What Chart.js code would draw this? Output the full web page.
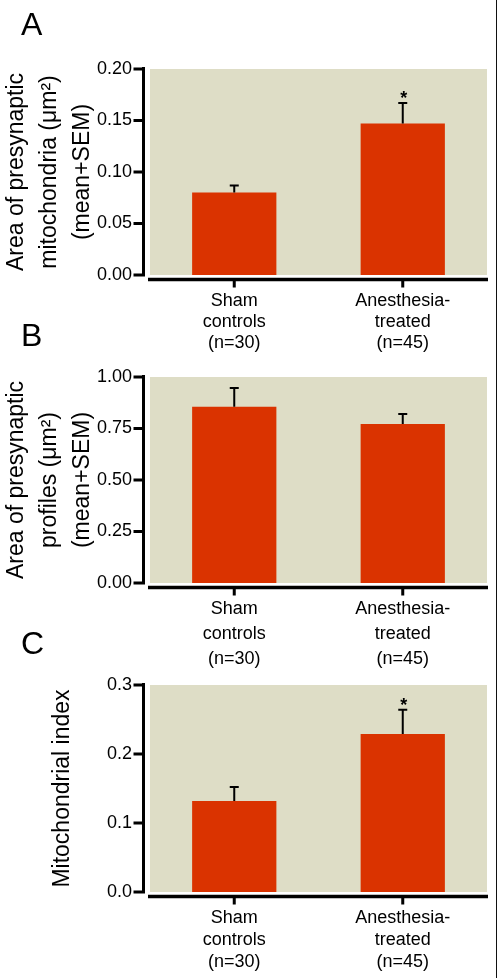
<!DOCTYPE html>
<html>
<head>
<meta charset="utf-8">
<script src="https://cdn.jsdelivr.net/npm/chart.js@4/dist/chart.umd.min.js"></script>
<style>
  body { margin: 0; background: #fff; }
  #page { position: relative; width: 496px; height: 978px; border-right: 1.5px solid #111; }
  canvas { position: absolute; left: 0; }
</style>
</head>
<body>
<div id="page">
  <canvas id="chartA" style="top:0px"></canvas>
  <canvas id="chartB" style="top:310px"></canvas>
  <canvas id="chartC" style="top:610px"></canvas>
</div>
<script>
// Categorias (iguais nos três painéis)
const categorias = [['Sham', 'controls', '(n=30)'], ['Anesthesia-', 'treated', '(n=45)']];

// Painel A: área das mitocôndrias pré-sinápticas
const mediaA = [0.080, 0.147];
const semA = [0.007, 0.020];
const estrelaA = [false, true];
const ticksA = ['0.00', '0.05', '0.10', '0.15', '0.20'];

// Painel B: área dos perfis pré-sinápticos
const mediaB = [0.855, 0.772];
const semB = [0.092, 0.048];
const estrelaB = [false, false];
const ticksB = ['0.00', '0.25', '0.50', '0.75', '1.00'];

// Painel C: índice mitocondrial
const mediaC = [0.132, 0.229];
const semC = [0.020, 0.035];
const estrelaC = [false, true];
const ticksC = ['0.0', '0.1', '0.2', '0.3'];

const fonte = '"Liberation Sans", Arial, sans-serif';
const corBarra = '#DA3300';
const corFundo = '#DEDDC6';

// Plugin que desenha fundo, eixos, barras de erro, asteriscos e a letra do painel
const painelPlugin = {
  id: 'painel',
  beforeDatasetsDraw(chart) {
    const {ctx, chartArea: a} = chart;
    ctx.save();
    ctx.fillStyle = corFundo;
    ctx.fillRect(a.left, a.top, a.right - a.left, a.bottom - a.top);
    ctx.restore();
  },
  afterDatasetsDraw(chart, args, opts) {
    const {ctx, chartArea: a, scales: {x, y}} = chart;
    ctx.save();
    ctx.strokeStyle = '#000';
    ctx.fillStyle = '#000';
    ctx.lineCap = 'butt';

    // eixo y deslocado à esquerda da área do gráfico
    const xEixo = a.left - 6.5;
    ctx.lineWidth = 3;
    ctx.beginPath();
    ctx.moveTo(xEixo, a.top - 2);
    ctx.lineTo(xEixo, a.bottom + 1.5);
    y.ticks.forEach(t => {
      const py = y.getPixelForValue(t.value);
      ctx.moveTo(xEixo, py);
      ctx.lineTo(xEixo - 10, py);
    });
    ctx.stroke();

    // eixo x abaixo da área do gráfico
    const yEixo = a.bottom + 4.5;
    ctx.lineWidth = 3.5;
    ctx.beginPath();
    ctx.moveTo(a.left - 2, yEixo);
    ctx.lineTo(a.right + 1, yEixo);
    ctx.stroke();
    ctx.lineWidth = 3;
    ctx.beginPath();
    categorias.forEach((c, i) => {
      const px = x.getPixelForValue(i);
      ctx.moveTo(px, yEixo);
      ctx.lineTo(px, yEixo + 8);
    });
    ctx.stroke();

    // barras de erro (média + SEM) e asteriscos
    const meta = chart.getDatasetMeta(0);
    opts.medias.forEach((m, i) => {
      const px = meta.data[i].x;
      const yTopo = y.getPixelForValue(m);
      const yErro = y.getPixelForValue(m + opts.sem[i]);
      ctx.lineWidth = 2;
      ctx.beginPath();
      ctx.moveTo(px, yTopo);
      ctx.lineTo(px, yErro);
      ctx.moveTo(px - 4.5, yErro);
      ctx.lineTo(px + 4.5, yErro);
      ctx.stroke();
      if (opts.estrelas[i]) {
        ctx.font = 'bold 18px ' + fonte;
        ctx.textAlign = 'center';
        ctx.textBaseline = 'alphabetic';
        ctx.fillText('*', px + 1, yErro + 1);
      }
    });

    // letra do painel
    ctx.font = '32px ' + fonte;
    ctx.textAlign = 'left';
    ctx.textBaseline = 'alphabetic';
    ctx.fillText(opts.letra, 21, opts.letraY);
    ctx.restore();
  }
};

function criarPainel(id, altura, cfg) {
  const canvas = document.getElementById(id);
  canvas.width = 500;
  canvas.height = altura;
  canvas.style.width = '500px';
  canvas.style.height = altura + 'px';

  return new Chart(canvas.getContext('2d'), {
    type: 'bar',
    data: {
      labels: categorias,
      datasets: [{
        data: cfg.medias,
        backgroundColor: corBarra,
        borderWidth: 0,
        barPercentage: 0.5,
        categoryPercentage: 1
      }]
    },
    options: {
      responsive: false,
      animation: false,
      layout: { padding: { top: cfg.topo, right: 13, left: 0, bottom: 0 } },
      plugins: {
        legend: { display: false },
        tooltip: { enabled: false },
        painel: {
          medias: cfg.medias,
          sem: cfg.sem,
          estrelas: cfg.estrelas,
          letra: cfg.letra,
          letraY: cfg.letraY
        }
      },
      scales: {
        x: {
          grid: { display: false, drawTicks: false },
          border: { display: false },
          ticks: {
            color: '#000',
            padding: cfg.xPad,
            font: { family: fonte, size: 18, lineHeight: cfg.xLinha / 18 },
            maxRotation: 0,
            autoSkip: false
          },
          afterFit: s => { s.height = cfg.xAltura; }
        },
        y: {
          min: 0,
          max: cfg.max,
          grid: { display: false, drawTicks: false },
          border: { display: false },
          ticks: {
            stepSize: cfg.passo,
            color: '#000',
            padding: 18,
            font: { family: fonte, size: 18 },
            callback: (v, i) => cfg.ticks[i]
          },
          title: {
            display: true,
            text: cfg.titulo,
            color: '#000',
            font: { family: fonte, size: 23, lineHeight: 33 / 23 },
            padding: { top: cfg.tituloPad, bottom: 0 }
          },
          afterFit: s => { s.width = 150; }
        }
      }
    },
    plugins: [painelPlugin]
  });
}

criarPainel('chartA', 360, {
  medias: mediaA, sem: semA, estrelas: estrelaA, ticks: ticksA,
  max: 0.2, passo: 0.05, topo: 69, xAltura: 85, xPad: 16, xLinha: 21,
  titulo: ['Area of presynaptic', 'mitochondria (\u03bcm\u00b2)', '(mean+SEM)'],
  tituloPad: 0, letra: 'A', letraY: 35
});

criarPainel('chartB', 370, {
  medias: mediaB, sem: semB, estrelas: estrelaB, ticks: ticksB,
  max: 1, passo: 0.25, topo: 67, xAltura: 97, xPad: 14, xLinha: 25,
  titulo: ['Area of presynaptic', 'profiles (\u03bcm\u00b2)', '(mean+SEM)'],
  tituloPad: 0, letra: 'B', letraY: 36
});

criarPainel('chartC', 368, {
  medias: mediaC, sem: semC, estrelas: estrelaC, ticks: ticksC,
  max: 0.3, passo: 0.1, topo: 75, xAltura: 86, xPad: 15, xLinha: 22,
  titulo: 'Mitochondrial index',
  tituloPad: 46, letra: 'C', letraY: 44
});
</script>
</body>
</html>
